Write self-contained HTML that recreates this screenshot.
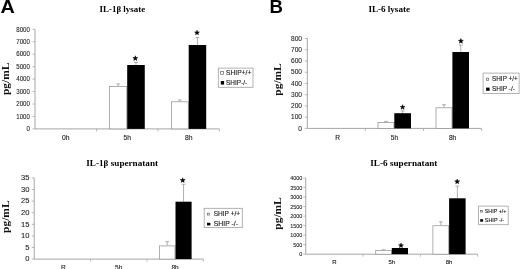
<!DOCTYPE html><html><head><meta charset="utf-8"><style>html,body{margin:0;padding:0;background:#fff;width:520px;height:269px;overflow:hidden}svg{display:block;will-change:transform}</style></head><body>
<svg width="520" height="269" viewBox="0 0 520 269">
<rect width="520" height="269" fill="#fff"/>
<text x="0.5" y="12.9" textLength="14.3" lengthAdjust="spacingAndGlyphs" font-family="Liberation Sans, sans-serif" font-weight="bold" font-size="18.6" fill="#000">A</text>
<text x="269.6" y="12.9" font-family="Liberation Sans, sans-serif" font-weight="bold" font-size="18.6" fill="#000">B</text>
<text x="99.6" y="11.9" textLength="45.5" lengthAdjust="spacingAndGlyphs" font-family="Liberation Serif, serif" font-weight="bold" font-size="8.8" fill="#000">IL-1&#946; lysate</text>
<text transform="translate(8.5,78.85) rotate(-90)" text-anchor="middle" textLength="32.4" lengthAdjust="spacingAndGlyphs" font-family="Liberation Serif, serif" font-weight="bold" font-size="11.2" fill="#111">pg/mL</text>
<text x="29.9" y="131.14" text-anchor="end" textLength="3.41" lengthAdjust="spacingAndGlyphs" font-family="Liberation Sans, sans-serif" font-size="6.6" fill="#1a1a1a" stroke="#1a1a1a" stroke-width="0.08">0</text>
<line x1="32.5" y1="128.9" x2="35" y2="128.9" stroke="#a6a6a6" stroke-width="0.8"/>
<text x="29.9" y="118.69" text-anchor="end" textLength="13.65" lengthAdjust="spacingAndGlyphs" font-family="Liberation Sans, sans-serif" font-size="6.6" fill="#1a1a1a" stroke="#1a1a1a" stroke-width="0.08">1000</text>
<line x1="32.5" y1="116.45" x2="35" y2="116.45" stroke="#a6a6a6" stroke-width="0.8"/>
<text x="29.9" y="106.24" text-anchor="end" textLength="13.65" lengthAdjust="spacingAndGlyphs" font-family="Liberation Sans, sans-serif" font-size="6.6" fill="#1a1a1a" stroke="#1a1a1a" stroke-width="0.08">2000</text>
<line x1="32.5" y1="104" x2="35" y2="104" stroke="#a6a6a6" stroke-width="0.8"/>
<text x="29.9" y="93.79" text-anchor="end" textLength="13.65" lengthAdjust="spacingAndGlyphs" font-family="Liberation Sans, sans-serif" font-size="6.6" fill="#1a1a1a" stroke="#1a1a1a" stroke-width="0.08">3000</text>
<line x1="32.5" y1="91.55" x2="35" y2="91.55" stroke="#a6a6a6" stroke-width="0.8"/>
<text x="29.9" y="81.34" text-anchor="end" textLength="13.65" lengthAdjust="spacingAndGlyphs" font-family="Liberation Sans, sans-serif" font-size="6.6" fill="#1a1a1a" stroke="#1a1a1a" stroke-width="0.08">4000</text>
<line x1="32.5" y1="79.1" x2="35" y2="79.1" stroke="#a6a6a6" stroke-width="0.8"/>
<text x="29.9" y="68.89" text-anchor="end" textLength="13.65" lengthAdjust="spacingAndGlyphs" font-family="Liberation Sans, sans-serif" font-size="6.6" fill="#1a1a1a" stroke="#1a1a1a" stroke-width="0.08">5000</text>
<line x1="32.5" y1="66.65" x2="35" y2="66.65" stroke="#a6a6a6" stroke-width="0.8"/>
<text x="29.9" y="56.44" text-anchor="end" textLength="13.65" lengthAdjust="spacingAndGlyphs" font-family="Liberation Sans, sans-serif" font-size="6.6" fill="#1a1a1a" stroke="#1a1a1a" stroke-width="0.08">6000</text>
<line x1="32.5" y1="54.2" x2="35" y2="54.2" stroke="#a6a6a6" stroke-width="0.8"/>
<text x="29.9" y="43.99" text-anchor="end" textLength="13.65" lengthAdjust="spacingAndGlyphs" font-family="Liberation Sans, sans-serif" font-size="6.6" fill="#1a1a1a" stroke="#1a1a1a" stroke-width="0.08">7000</text>
<line x1="32.5" y1="41.75" x2="35" y2="41.75" stroke="#a6a6a6" stroke-width="0.8"/>
<text x="29.9" y="31.54" text-anchor="end" textLength="13.65" lengthAdjust="spacingAndGlyphs" font-family="Liberation Sans, sans-serif" font-size="6.6" fill="#1a1a1a" stroke="#1a1a1a" stroke-width="0.08">8000</text>
<line x1="32.5" y1="29.3" x2="35" y2="29.3" stroke="#a6a6a6" stroke-width="0.8"/>
<line x1="35" y1="29.3" x2="35" y2="128.9" stroke="#a6a6a6" stroke-width="1"/>
<line x1="35" y1="128.9" x2="219.4" y2="128.9" stroke="#a6a6a6" stroke-width="1"/>
<line x1="96.47" y1="128.9" x2="96.47" y2="131.4" stroke="#a6a6a6" stroke-width="0.8"/>
<line x1="157.93" y1="128.9" x2="157.93" y2="131.4" stroke="#a6a6a6" stroke-width="0.8"/>
<line x1="219.4" y1="128.9" x2="219.4" y2="131.4" stroke="#a6a6a6" stroke-width="0.8"/>
<text x="65.73" y="139.8" text-anchor="middle" font-family="Liberation Sans, sans-serif" font-size="6.8" fill="#1a1a1a" stroke="#1a1a1a" stroke-width="0.12">0h</text>
<text x="127.2" y="139.8" text-anchor="middle" font-family="Liberation Sans, sans-serif" font-size="6.8" fill="#1a1a1a" stroke="#1a1a1a" stroke-width="0.12">5h</text>
<text x="188.67" y="139.8" text-anchor="middle" font-family="Liberation Sans, sans-serif" font-size="6.8" fill="#1a1a1a" stroke="#1a1a1a" stroke-width="0.12">8h</text>
<line x1="118.2" y1="83.9" x2="118.2" y2="86.1" stroke="#9a9a9a" stroke-width="0.8"/>
<line x1="116.3" y1="83.9" x2="120.1" y2="83.9" stroke="#9a9a9a" stroke-width="0.8"/>
<rect x="109.6" y="86.5" width="17.2" height="42.4" fill="#fff" stroke="#959595" stroke-width="0.75"/>
<line x1="135.98" y1="62.3" x2="135.98" y2="65" stroke="#9a9a9a" stroke-width="0.8"/>
<line x1="134.08" y1="62.3" x2="137.88" y2="62.3" stroke="#9a9a9a" stroke-width="0.8"/>
<rect x="127.2" y="65" width="17.56" height="63.9" fill="#000"/>
<line x1="179.85" y1="100" x2="179.85" y2="101.4" stroke="#9a9a9a" stroke-width="0.8"/>
<line x1="177.95" y1="100" x2="181.75" y2="100" stroke="#9a9a9a" stroke-width="0.8"/>
<rect x="171.4" y="101.8" width="16.9" height="27.1" fill="#fff" stroke="#959595" stroke-width="0.75"/>
<line x1="197.45" y1="37.5" x2="197.45" y2="45" stroke="#9a9a9a" stroke-width="0.8"/>
<line x1="195.55" y1="37.5" x2="199.35" y2="37.5" stroke="#9a9a9a" stroke-width="0.8"/>
<rect x="188.7" y="45" width="17.5" height="83.9" fill="#000"/>
<polygon points="135.30,55.79 135.92,57.49 137.73,57.55 136.30,58.67 136.80,60.41 135.30,59.39 133.80,60.41 134.30,58.67 132.87,57.55 134.68,57.49" fill="#000" stroke="#000" stroke-width="0.5" stroke-linejoin="round"/>
<polygon points="197.00,30.19 197.62,31.89 199.43,31.95 198.00,33.07 198.50,34.81 197.00,33.79 195.50,34.81 196.00,33.07 194.57,31.95 196.38,31.89" fill="#000" stroke="#000" stroke-width="0.5" stroke-linejoin="round"/>
<rect x="218.3" y="68.1" width="34.7" height="19.2" fill="#fff" stroke="#a0a0a0" stroke-width="0.8"/>
<rect x="220.65" y="71.55" width="2.7" height="2.7" fill="#fff" stroke="#666" stroke-width="0.7"/>
<text x="226" y="75" textLength="25.3" lengthAdjust="spacingAndGlyphs" font-family="Liberation Sans, sans-serif" font-size="6.4" fill="#1a1a1a" stroke="#1a1a1a" stroke-width="0.12">SHIP+/+</text>
<rect x="220.8" y="81" width="3.3" height="3.6" fill="#000"/>
<text x="226" y="84.7" textLength="21.2" lengthAdjust="spacingAndGlyphs" font-family="Liberation Sans, sans-serif" font-size="6.4" fill="#1a1a1a" stroke="#1a1a1a" stroke-width="0.12">SHIP-/-</text>
<text x="86.3" y="165.8" textLength="71.8" lengthAdjust="spacingAndGlyphs" font-family="Liberation Serif, serif" font-weight="bold" font-size="8.8" fill="#000">IL-1&#946; supernatant</text>
<text transform="translate(8.7,216.7) rotate(-90)" text-anchor="middle" textLength="32.4" lengthAdjust="spacingAndGlyphs" font-family="Liberation Serif, serif" font-weight="bold" font-size="11.2" fill="#111">pg/mL</text>
<text x="29.5" y="261.34" text-anchor="end" textLength="4.22" lengthAdjust="spacingAndGlyphs" font-family="Liberation Sans, sans-serif" font-size="6.6" fill="#1a1a1a" stroke="#1a1a1a" stroke-width="0.08">0</text>
<line x1="31.7" y1="259.1" x2="34.2" y2="259.1" stroke="#a6a6a6" stroke-width="0.8"/>
<text x="29.5" y="249.74" text-anchor="end" textLength="4.22" lengthAdjust="spacingAndGlyphs" font-family="Liberation Sans, sans-serif" font-size="6.6" fill="#1a1a1a" stroke="#1a1a1a" stroke-width="0.08">5</text>
<line x1="31.7" y1="247.5" x2="34.2" y2="247.5" stroke="#a6a6a6" stroke-width="0.8"/>
<text x="29.5" y="238.14" text-anchor="end" textLength="8.44" lengthAdjust="spacingAndGlyphs" font-family="Liberation Sans, sans-serif" font-size="6.6" fill="#1a1a1a" stroke="#1a1a1a" stroke-width="0.08">10</text>
<line x1="31.7" y1="235.9" x2="34.2" y2="235.9" stroke="#a6a6a6" stroke-width="0.8"/>
<text x="29.5" y="226.54" text-anchor="end" textLength="8.44" lengthAdjust="spacingAndGlyphs" font-family="Liberation Sans, sans-serif" font-size="6.6" fill="#1a1a1a" stroke="#1a1a1a" stroke-width="0.08">15</text>
<line x1="31.7" y1="224.3" x2="34.2" y2="224.3" stroke="#a6a6a6" stroke-width="0.8"/>
<text x="29.5" y="214.94" text-anchor="end" textLength="8.44" lengthAdjust="spacingAndGlyphs" font-family="Liberation Sans, sans-serif" font-size="6.6" fill="#1a1a1a" stroke="#1a1a1a" stroke-width="0.08">20</text>
<line x1="31.7" y1="212.7" x2="34.2" y2="212.7" stroke="#a6a6a6" stroke-width="0.8"/>
<text x="29.5" y="203.34" text-anchor="end" textLength="8.44" lengthAdjust="spacingAndGlyphs" font-family="Liberation Sans, sans-serif" font-size="6.6" fill="#1a1a1a" stroke="#1a1a1a" stroke-width="0.08">25</text>
<line x1="31.7" y1="201.1" x2="34.2" y2="201.1" stroke="#a6a6a6" stroke-width="0.8"/>
<text x="29.5" y="191.74" text-anchor="end" textLength="8.44" lengthAdjust="spacingAndGlyphs" font-family="Liberation Sans, sans-serif" font-size="6.6" fill="#1a1a1a" stroke="#1a1a1a" stroke-width="0.08">30</text>
<line x1="31.7" y1="189.5" x2="34.2" y2="189.5" stroke="#a6a6a6" stroke-width="0.8"/>
<text x="29.5" y="180.14" text-anchor="end" textLength="8.44" lengthAdjust="spacingAndGlyphs" font-family="Liberation Sans, sans-serif" font-size="6.6" fill="#1a1a1a" stroke="#1a1a1a" stroke-width="0.08">35</text>
<line x1="31.7" y1="177.9" x2="34.2" y2="177.9" stroke="#a6a6a6" stroke-width="0.8"/>
<line x1="34.2" y1="177.9" x2="34.2" y2="259.1" stroke="#a6a6a6" stroke-width="1"/>
<line x1="34.2" y1="259.1" x2="203.3" y2="259.1" stroke="#a6a6a6" stroke-width="1"/>
<line x1="90.57" y1="259.1" x2="90.57" y2="261.6" stroke="#a6a6a6" stroke-width="0.8"/>
<line x1="146.93" y1="259.1" x2="146.93" y2="261.6" stroke="#a6a6a6" stroke-width="0.8"/>
<line x1="203.3" y1="259.1" x2="203.3" y2="261.6" stroke="#a6a6a6" stroke-width="0.8"/>
<text x="63.38" y="269.6" text-anchor="middle" font-family="Liberation Sans, sans-serif" font-size="6.6" fill="#1a1a1a" stroke="#1a1a1a" stroke-width="0.12">R</text>
<text x="118.75" y="269.6" text-anchor="middle" font-family="Liberation Sans, sans-serif" font-size="6.6" fill="#1a1a1a" stroke="#1a1a1a" stroke-width="0.12">5h</text>
<text x="175.12" y="269.6" text-anchor="middle" font-family="Liberation Sans, sans-serif" font-size="6.6" fill="#1a1a1a" stroke="#1a1a1a" stroke-width="0.12">8h</text>
<line x1="167.2" y1="241.7" x2="167.2" y2="245.5" stroke="#9a9a9a" stroke-width="0.8"/>
<line x1="165.3" y1="241.7" x2="169.1" y2="241.7" stroke="#9a9a9a" stroke-width="0.8"/>
<rect x="159.4" y="245.9" width="15.6" height="13.2" fill="#fff" stroke="#959595" stroke-width="0.75"/>
<line x1="183.55" y1="184.3" x2="183.55" y2="201.7" stroke="#9a9a9a" stroke-width="0.8"/>
<line x1="181.65" y1="184.3" x2="185.45" y2="184.3" stroke="#9a9a9a" stroke-width="0.8"/>
<rect x="175.5" y="201.7" width="16.1" height="57.4" fill="#000"/>
<polygon points="182.70,177.79 183.32,179.49 185.13,179.55 183.70,180.67 184.20,182.41 182.70,181.39 181.20,182.41 181.70,180.67 180.27,179.55 182.08,179.49" fill="#000" stroke="#000" stroke-width="0.5" stroke-linejoin="round"/>
<rect x="204.2" y="208.3" width="38.1" height="19.3" fill="#fff" stroke="#a0a0a0" stroke-width="0.8"/>
<rect x="207.55" y="213.25" width="1.9" height="1.8" fill="#fff" stroke="#666" stroke-width="0.7"/>
<text x="213.7" y="216" textLength="26.5" lengthAdjust="spacingAndGlyphs" font-family="Liberation Sans, sans-serif" font-size="6.5" fill="#1a1a1a" stroke="#1a1a1a" stroke-width="0.12">SHIP +/+</text>
<rect x="207" y="222.8" width="3.4" height="2.6" fill="#000"/>
<text x="213.7" y="225.6" textLength="24.3" lengthAdjust="spacingAndGlyphs" font-family="Liberation Sans, sans-serif" font-size="6.5" fill="#1a1a1a" stroke="#1a1a1a" stroke-width="0.12">SHIP -/-</text>
<text x="368.4" y="11.9" textLength="41.6" lengthAdjust="spacingAndGlyphs" font-family="Liberation Serif, serif" font-weight="bold" font-size="8.8" fill="#000">IL-6 lysate</text>
<text transform="translate(280.9,79.5) rotate(-90)" text-anchor="middle" textLength="32.4" lengthAdjust="spacingAndGlyphs" font-family="Liberation Serif, serif" font-weight="bold" font-size="11.2" fill="#111">pg/mL</text>
<text x="302" y="130.64" text-anchor="end" textLength="3.67" lengthAdjust="spacingAndGlyphs" font-family="Liberation Sans, sans-serif" font-size="6.6" fill="#1a1a1a" stroke="#1a1a1a" stroke-width="0.08">0</text>
<line x1="304.8" y1="128.4" x2="307.3" y2="128.4" stroke="#a6a6a6" stroke-width="0.8"/>
<text x="302" y="119.41" text-anchor="end" textLength="11.01" lengthAdjust="spacingAndGlyphs" font-family="Liberation Sans, sans-serif" font-size="6.6" fill="#1a1a1a" stroke="#1a1a1a" stroke-width="0.08">100</text>
<line x1="304.8" y1="117.16" x2="307.3" y2="117.16" stroke="#a6a6a6" stroke-width="0.8"/>
<text x="302" y="108.17" text-anchor="end" textLength="11.01" lengthAdjust="spacingAndGlyphs" font-family="Liberation Sans, sans-serif" font-size="6.6" fill="#1a1a1a" stroke="#1a1a1a" stroke-width="0.08">200</text>
<line x1="304.8" y1="105.93" x2="307.3" y2="105.93" stroke="#a6a6a6" stroke-width="0.8"/>
<text x="302" y="96.93" text-anchor="end" textLength="11.01" lengthAdjust="spacingAndGlyphs" font-family="Liberation Sans, sans-serif" font-size="6.6" fill="#1a1a1a" stroke="#1a1a1a" stroke-width="0.08">300</text>
<line x1="304.8" y1="94.69" x2="307.3" y2="94.69" stroke="#a6a6a6" stroke-width="0.8"/>
<text x="302" y="85.69" text-anchor="end" textLength="11.01" lengthAdjust="spacingAndGlyphs" font-family="Liberation Sans, sans-serif" font-size="6.6" fill="#1a1a1a" stroke="#1a1a1a" stroke-width="0.08">400</text>
<line x1="304.8" y1="83.45" x2="307.3" y2="83.45" stroke="#a6a6a6" stroke-width="0.8"/>
<text x="302" y="74.46" text-anchor="end" textLength="11.01" lengthAdjust="spacingAndGlyphs" font-family="Liberation Sans, sans-serif" font-size="6.6" fill="#1a1a1a" stroke="#1a1a1a" stroke-width="0.08">500</text>
<line x1="304.8" y1="72.21" x2="307.3" y2="72.21" stroke="#a6a6a6" stroke-width="0.8"/>
<text x="302" y="63.22" text-anchor="end" textLength="11.01" lengthAdjust="spacingAndGlyphs" font-family="Liberation Sans, sans-serif" font-size="6.6" fill="#1a1a1a" stroke="#1a1a1a" stroke-width="0.08">600</text>
<line x1="304.8" y1="60.97" x2="307.3" y2="60.97" stroke="#a6a6a6" stroke-width="0.8"/>
<text x="302" y="51.98" text-anchor="end" textLength="11.01" lengthAdjust="spacingAndGlyphs" font-family="Liberation Sans, sans-serif" font-size="6.6" fill="#1a1a1a" stroke="#1a1a1a" stroke-width="0.08">700</text>
<line x1="304.8" y1="49.74" x2="307.3" y2="49.74" stroke="#a6a6a6" stroke-width="0.8"/>
<text x="302" y="40.74" text-anchor="end" textLength="11.01" lengthAdjust="spacingAndGlyphs" font-family="Liberation Sans, sans-serif" font-size="6.6" fill="#1a1a1a" stroke="#1a1a1a" stroke-width="0.08">800</text>
<line x1="304.8" y1="38.5" x2="307.3" y2="38.5" stroke="#a6a6a6" stroke-width="0.8"/>
<line x1="307.3" y1="38.5" x2="307.3" y2="128.4" stroke="#a6a6a6" stroke-width="1"/>
<line x1="307.3" y1="128.4" x2="481.6" y2="128.4" stroke="#a6a6a6" stroke-width="1"/>
<line x1="365.4" y1="128.4" x2="365.4" y2="130.9" stroke="#a6a6a6" stroke-width="0.8"/>
<line x1="423.5" y1="128.4" x2="423.5" y2="130.9" stroke="#a6a6a6" stroke-width="0.8"/>
<line x1="481.6" y1="128.4" x2="481.6" y2="130.9" stroke="#a6a6a6" stroke-width="0.8"/>
<text x="337.65" y="140.1" text-anchor="middle" font-family="Liberation Sans, sans-serif" font-size="6.6" fill="#1a1a1a" stroke="#1a1a1a" stroke-width="0.12">R</text>
<text x="394.45" y="140.1" text-anchor="middle" font-family="Liberation Sans, sans-serif" font-size="6.6" fill="#1a1a1a" stroke="#1a1a1a" stroke-width="0.12">5h</text>
<text x="452.55" y="140.1" text-anchor="middle" font-family="Liberation Sans, sans-serif" font-size="6.6" fill="#1a1a1a" stroke="#1a1a1a" stroke-width="0.12">8h</text>
<line x1="385.95" y1="121.4" x2="385.95" y2="122" stroke="#9a9a9a" stroke-width="0.8"/>
<line x1="384.05" y1="121.4" x2="387.85" y2="121.4" stroke="#9a9a9a" stroke-width="0.8"/>
<rect x="378" y="122.4" width="15.9" height="6" fill="#fff" stroke="#959595" stroke-width="0.75"/>
<line x1="402.65" y1="110.9" x2="402.65" y2="113.2" stroke="#9a9a9a" stroke-width="0.8"/>
<line x1="400.75" y1="110.9" x2="404.55" y2="110.9" stroke="#9a9a9a" stroke-width="0.8"/>
<rect x="394.3" y="113.2" width="16.7" height="15.2" fill="#000"/>
<line x1="444" y1="104.7" x2="444" y2="107.4" stroke="#9a9a9a" stroke-width="0.8"/>
<line x1="442.1" y1="104.7" x2="445.9" y2="104.7" stroke="#9a9a9a" stroke-width="0.8"/>
<rect x="436" y="107.8" width="16" height="20.6" fill="#fff" stroke="#959595" stroke-width="0.75"/>
<line x1="460.7" y1="45" x2="460.7" y2="52" stroke="#9a9a9a" stroke-width="0.8"/>
<line x1="458.8" y1="45" x2="462.6" y2="45" stroke="#9a9a9a" stroke-width="0.8"/>
<rect x="452.4" y="52" width="16.6" height="76.4" fill="#000"/>
<polygon points="402.60,104.69 403.22,106.39 405.03,106.45 403.60,107.57 404.10,109.31 402.60,108.29 401.10,109.31 401.60,107.57 400.17,106.45 401.98,106.39" fill="#000" stroke="#000" stroke-width="0.5" stroke-linejoin="round"/>
<polygon points="460.90,38.59 461.52,40.29 463.33,40.35 461.90,41.47 462.40,43.21 460.90,42.19 459.40,43.21 459.90,41.47 458.47,40.35 460.28,40.29" fill="#000" stroke="#000" stroke-width="0.5" stroke-linejoin="round"/>
<rect x="483.1" y="73.1" width="36" height="20.5" fill="#fff" stroke="#a0a0a0" stroke-width="0.8"/>
<rect x="486.45" y="78.15" width="2.3" height="2.1" fill="#fff" stroke="#666" stroke-width="0.7"/>
<text x="492" y="81.1" textLength="25.8" lengthAdjust="spacingAndGlyphs" font-family="Liberation Sans, sans-serif" font-size="6.5" fill="#1a1a1a" stroke="#1a1a1a" stroke-width="0.12">SHIP +/+</text>
<rect x="486.1" y="87.6" width="3.5" height="3.2" fill="#000"/>
<text x="492" y="90.8" textLength="22.9" lengthAdjust="spacingAndGlyphs" font-family="Liberation Sans, sans-serif" font-size="6.5" fill="#1a1a1a" stroke="#1a1a1a" stroke-width="0.12">SHIP -/-</text>
<text x="370.3" y="165.8" textLength="67.1" lengthAdjust="spacingAndGlyphs" font-family="Liberation Serif, serif" font-weight="bold" font-size="8.8" fill="#000">IL-6 supernatant</text>
<text transform="translate(280.9,213.5) rotate(-90)" text-anchor="middle" textLength="32.4" lengthAdjust="spacingAndGlyphs" font-family="Liberation Serif, serif" font-weight="bold" font-size="11.2" fill="#111">pg/mL</text>
<text x="302.3" y="256.24" text-anchor="end" textLength="3.04" lengthAdjust="spacingAndGlyphs" font-family="Liberation Sans, sans-serif" font-size="6.0" fill="#1a1a1a" stroke="#1a1a1a" stroke-width="0.08">0</text>
<line x1="303.25" y1="254.2" x2="305.75" y2="254.2" stroke="#a6a6a6" stroke-width="0.8"/>
<text x="302.3" y="246.71" text-anchor="end" textLength="9.11" lengthAdjust="spacingAndGlyphs" font-family="Liberation Sans, sans-serif" font-size="6.0" fill="#1a1a1a" stroke="#1a1a1a" stroke-width="0.08">500</text>
<line x1="303.25" y1="244.67" x2="305.75" y2="244.67" stroke="#a6a6a6" stroke-width="0.8"/>
<text x="302.3" y="237.19" text-anchor="end" textLength="12.14" lengthAdjust="spacingAndGlyphs" font-family="Liberation Sans, sans-serif" font-size="6.0" fill="#1a1a1a" stroke="#1a1a1a" stroke-width="0.08">1000</text>
<line x1="303.25" y1="235.15" x2="305.75" y2="235.15" stroke="#a6a6a6" stroke-width="0.8"/>
<text x="302.3" y="227.66" text-anchor="end" textLength="12.14" lengthAdjust="spacingAndGlyphs" font-family="Liberation Sans, sans-serif" font-size="6.0" fill="#1a1a1a" stroke="#1a1a1a" stroke-width="0.08">1500</text>
<line x1="303.25" y1="225.62" x2="305.75" y2="225.62" stroke="#a6a6a6" stroke-width="0.8"/>
<text x="302.3" y="218.14" text-anchor="end" textLength="12.14" lengthAdjust="spacingAndGlyphs" font-family="Liberation Sans, sans-serif" font-size="6.0" fill="#1a1a1a" stroke="#1a1a1a" stroke-width="0.08">2000</text>
<line x1="303.25" y1="216.1" x2="305.75" y2="216.1" stroke="#a6a6a6" stroke-width="0.8"/>
<text x="302.3" y="208.61" text-anchor="end" textLength="12.14" lengthAdjust="spacingAndGlyphs" font-family="Liberation Sans, sans-serif" font-size="6.0" fill="#1a1a1a" stroke="#1a1a1a" stroke-width="0.08">2500</text>
<line x1="303.25" y1="206.57" x2="305.75" y2="206.57" stroke="#a6a6a6" stroke-width="0.8"/>
<text x="302.3" y="199.09" text-anchor="end" textLength="12.14" lengthAdjust="spacingAndGlyphs" font-family="Liberation Sans, sans-serif" font-size="6.0" fill="#1a1a1a" stroke="#1a1a1a" stroke-width="0.08">3000</text>
<line x1="303.25" y1="197.05" x2="305.75" y2="197.05" stroke="#a6a6a6" stroke-width="0.8"/>
<text x="302.3" y="189.56" text-anchor="end" textLength="12.14" lengthAdjust="spacingAndGlyphs" font-family="Liberation Sans, sans-serif" font-size="6.0" fill="#1a1a1a" stroke="#1a1a1a" stroke-width="0.08">3500</text>
<line x1="303.25" y1="187.53" x2="305.75" y2="187.53" stroke="#a6a6a6" stroke-width="0.8"/>
<text x="302.3" y="180.04" text-anchor="end" textLength="12.14" lengthAdjust="spacingAndGlyphs" font-family="Liberation Sans, sans-serif" font-size="6.0" fill="#1a1a1a" stroke="#1a1a1a" stroke-width="0.08">4000</text>
<line x1="303.25" y1="178" x2="305.75" y2="178" stroke="#a6a6a6" stroke-width="0.8"/>
<line x1="305.75" y1="178" x2="305.75" y2="254.2" stroke="#a6a6a6" stroke-width="1"/>
<line x1="305.75" y1="254.2" x2="477.7" y2="254.2" stroke="#a6a6a6" stroke-width="1"/>
<line x1="363.07" y1="254.2" x2="363.07" y2="256.7" stroke="#a6a6a6" stroke-width="0.8"/>
<line x1="420.38" y1="254.2" x2="420.38" y2="256.7" stroke="#a6a6a6" stroke-width="0.8"/>
<line x1="477.7" y1="254.2" x2="477.7" y2="256.7" stroke="#a6a6a6" stroke-width="0.8"/>
<text x="334.41" y="264" text-anchor="middle" font-family="Liberation Sans, sans-serif" font-size="6.0" fill="#1a1a1a" stroke="#1a1a1a" stroke-width="0.12">R</text>
<text x="391.73" y="264" text-anchor="middle" font-family="Liberation Sans, sans-serif" font-size="6.0" fill="#1a1a1a" stroke="#1a1a1a" stroke-width="0.12">5h</text>
<text x="449.04" y="264" text-anchor="middle" font-family="Liberation Sans, sans-serif" font-size="6.0" fill="#1a1a1a" stroke="#1a1a1a" stroke-width="0.12">8h</text>
<line x1="383.55" y1="249.8" x2="383.55" y2="250.2" stroke="#9a9a9a" stroke-width="0.8"/>
<line x1="381.65" y1="249.8" x2="385.45" y2="249.8" stroke="#9a9a9a" stroke-width="0.8"/>
<rect x="375.7" y="250.6" width="15.7" height="3.6" fill="#fff" stroke="#959595" stroke-width="0.75"/>
<rect x="391.8" y="248" width="16.2" height="6.2" fill="#000"/>
<line x1="440.8" y1="221.8" x2="440.8" y2="225.3" stroke="#9a9a9a" stroke-width="0.8"/>
<line x1="438.9" y1="221.8" x2="442.7" y2="221.8" stroke="#9a9a9a" stroke-width="0.8"/>
<rect x="432.9" y="225.7" width="15.8" height="28.5" fill="#fff" stroke="#959595" stroke-width="0.75"/>
<line x1="457.35" y1="186.1" x2="457.35" y2="198.3" stroke="#9a9a9a" stroke-width="0.8"/>
<line x1="455.45" y1="186.1" x2="459.25" y2="186.1" stroke="#9a9a9a" stroke-width="0.8"/>
<rect x="449.1" y="198.3" width="16.5" height="55.9" fill="#000"/>
<polygon points="401.00,242.99 401.62,244.69 403.43,244.75 402.00,245.87 402.50,247.61 401.00,246.59 399.50,247.61 400.00,245.87 398.57,244.75 400.38,244.69" fill="#000" stroke="#000" stroke-width="0.5" stroke-linejoin="round"/>
<polygon points="457.20,179.09 457.82,180.79 459.63,180.85 458.20,181.97 458.70,183.71 457.20,182.69 455.70,183.71 456.20,181.97 454.77,180.85 456.58,180.79" fill="#000" stroke="#000" stroke-width="0.5" stroke-linejoin="round"/>
<rect x="478.6" y="206.1" width="29.6" height="18.6" fill="#fff" stroke="#a0a0a0" stroke-width="0.8"/>
<rect x="480.55" y="210.35" width="2" height="1.7" fill="#fff" stroke="#666" stroke-width="0.7"/>
<text x="484.8" y="212.7" textLength="21.6" lengthAdjust="spacingAndGlyphs" font-family="Liberation Sans, sans-serif" font-size="5.4" fill="#1a1a1a" stroke="#1a1a1a" stroke-width="0.12">SHIP +/+</text>
<rect x="480.2" y="219.2" width="2.9" height="2.5" fill="#000"/>
<text x="484.8" y="221.6" textLength="19.3" lengthAdjust="spacingAndGlyphs" font-family="Liberation Sans, sans-serif" font-size="5.4" fill="#1a1a1a" stroke="#1a1a1a" stroke-width="0.12">SHIP -/-</text>
</svg></body></html>
